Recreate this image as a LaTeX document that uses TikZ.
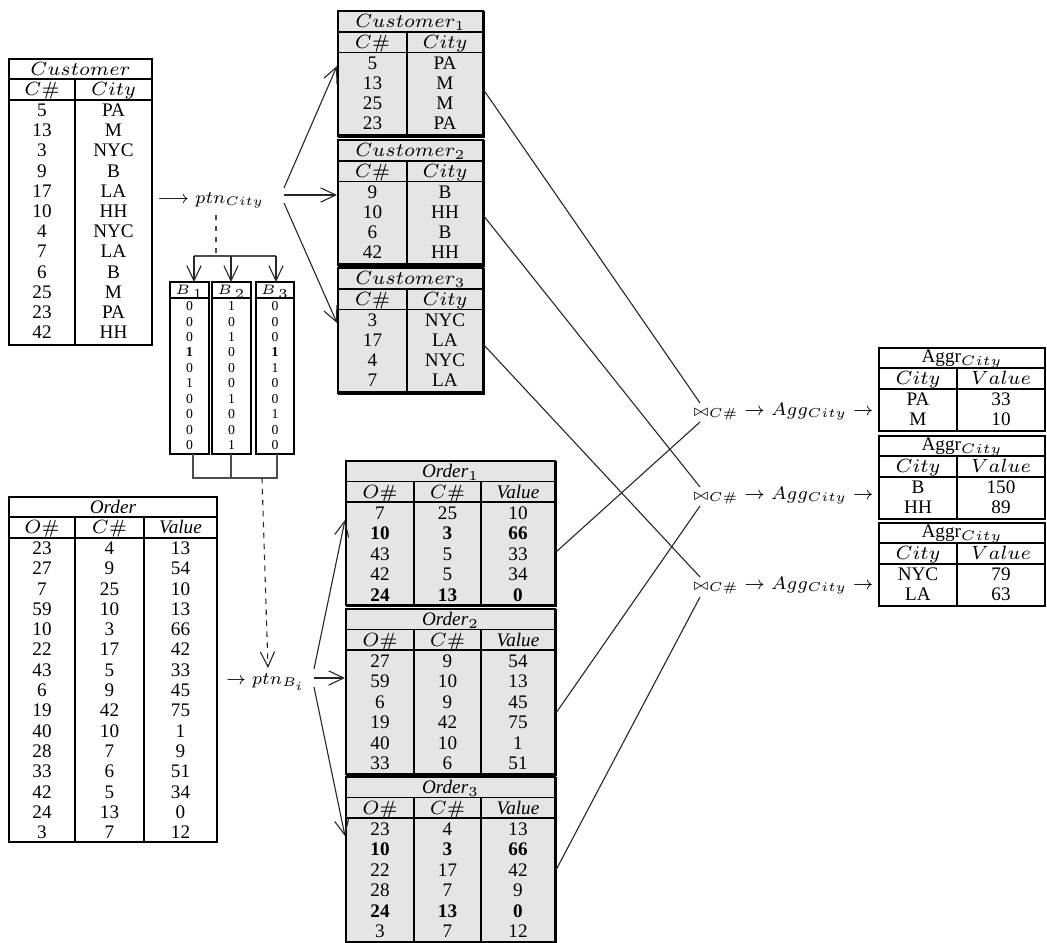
\documentclass[tikz,border=0pt]{standalone}
\usepackage[no-math]{fontspec}
\setmainfont{Liberation Serif}
\usepackage{graphicx}
\usetikzlibrary{arrows.meta,fit}
\tikzset{
  cell/.style={inner sep=0pt, text height=4.7pt, text depth=0pt, anchor=center},
  bcell/.style={inner sep=0pt, text height=3.4pt, text depth=0pt, anchor=center, font=\fontsize{5}{6}\selectfont},
  tframe/.style={draw, line width=0.75pt, inner sep=0pt, outer sep=0pt},
  aframe/.style={draw, line width=0.9pt, inner sep=0pt, outer sep=0pt},
  pframe/.style={draw, fill=gray!20, line width=0.5pt, inner sep=0pt, outer sep=0pt},
  bframe/.style={draw, line width=1pt, inner sep=0pt, outer sep=0pt},
  tline/.style={line width=0.65pt},
  pline/.style={line width=0.4pt},
  shadeline/.style={line width=1.1pt},
  conn/.style={line width=0.4pt, black!85},
  brk/.style={line width=0.45pt, black!70},
  barb/.style={-{Straight Barb[length=5.5pt,width=5.2pt]}},
  dashline/.style={dash pattern=on 2pt off 2pt},
  lab/.style={inner sep=0pt, outer sep=0pt},
}
\newcommand\joinlabel{\scalebox{0.95}{${\scriptstyle\bowtie}_{C\#}\rightarrow Agg_{City}\rightarrow$}}
\begin{document}
\begin{tikzpicture}[x=0.365pt,y=-0.365pt,font=\fontsize{7}{8}\selectfont]
\useasboundingbox (0,0) rectangle (1047,942);

% ---------------- Customer (main) ----------------
\node[tframe, fit={(9,59)(152,345)}] (cust) {};
\draw[tline] (9,79) -- (152,79);
\draw[tline] (9,100) -- (152,100);
\draw[tline] (75,79) -- (75,345);
\node[cell] (cust-t) at (80.5,69) {$Customer$};
\node[cell] (cust-h1) at (42,89.5) {$C\#$};
\node[cell] (cust-h2) at (113.5,89.5) {$City$};
\foreach \a/\b [count=\i from 0] in {5/PA,13/M,3/NYC,9/B,17/LA,10/HH,4/NYC,7/LA,6/B,25/M,23/PA,42/HH}{
  \node[cell] (cust-\i a) at (42,{110+20.2*\i}) {\a};
  \node[cell] (cust-\i b) at (113.5,{110+20.2*\i}) {\b};
}

% ---------------- Order (main) ----------------
\node[tframe, fit={(9,497)(217,842)}] (ord) {};
\draw[tline] (9,517) -- (217,517);
\draw[tline] (9,538) -- (217,538);
\draw[tline] (75,517) -- (75,842);
\draw[tline] (144,517) -- (144,842);
\node[cell] (ord-t) at (113,507) {\textit{Order}};
\node[cell] (ord-h1) at (42,527.5) {$O\#$};
\node[cell] (ord-h2) at (109.5,527.5) {$C\#$};
\node[cell] (ord-h3) at (180.5,527.5) {\textit{Value}};
\foreach \a/\b/\c [count=\i from 0] in {23/4/13,27/9/54,7/25/10,59/10/13,10/3/66,22/17/42,43/5/33,6/9/45,19/42/75,40/10/1,28/7/9,33/6/51,42/5/34,24/13/0,3/7/12}{
  \node[cell] (ord-\i a) at (42,{548+20.3*\i}) {\a};
  \node[cell] (ord-\i b) at (109.5,{548+20.3*\i}) {\b};
  \node[cell] (ord-\i c) at (180.5,{548+20.3*\i}) {\c};
}

% ---------------- partition labels ----------------
\node[lab, anchor=base west] (ptnC) at (157,203) {\scalebox{0.92}{$\longrightarrow ptn_{City}$}};
\node[lab, anchor=base west] (ptnB) at (226,684) {\scalebox{0.92}{$\rightarrow ptn_{B_i}$}};

% ---------------- bitmap tables ----------------
\foreach \k/\xa/\xb/\vals in {1/170/209/{0,0,0,\textbf{1},0,1,0,0,0,0},2/212/251/{1,0,1,0,0,0,1,0,0,1},3/256/294/{0,0,0,\textbf{1},1,0,0,1,0,0}}{
  \node[bframe, fit={(\xa,282)(\xb,454)}] (bm\k) {};
  \draw[line width=1pt] (\xa,298) -- (\xb,298);
  \node[bcell] (bm\k-h) at ({(\xa+\xb)/2},290) {$B_{\,\k}$};
  \foreach \v [count=\i from 0] in \vals {
    \node[bcell] (bm\k-\i) at ({(\xa+\xb)/2},{306+15.44*\i}) {\v};
  }
}
% bracket above the bitmaps
\coordinate (dA) at (216,215);
\coordinate (dB) at (216,256);
\coordinate (bl) at (194,256);
\coordinate (br) at (276,256);
\draw[brk, dashline] (dA) -- (dB);
\draw[brk] (bl) -- (br);
\draw[conn, barb] (bl) -- (bl |- bm1.north);
\draw[conn, barb] (231,256) -- (231,282);
\draw[conn, barb] (br) -- (br |- bm3.north);
% bracket below the bitmaps
\coordinate (ql) at (193,478);
\coordinate (qr) at (277,478);
\draw[brk] (193,454) -- (ql) -- (qr) -- (277,454);
\draw[brk] (231,454) -- (231,478);
\coordinate (qd) at (262,478);
\coordinate (qe) at (268,668);
\draw[conn, dashline, barb] (qd) -- (qe);

% ---------------- Customer partitions ----------------
\foreach \k/\tp/\rws in {1/11/{5/PA,13/M,25/M,23/PA},2/140/{9/B,10/HH,6/B,42/HH},3/268/{3/NYC,17/LA,4/NYC,7/LA}}{
  \node[pframe, fit={(338,\tp)(483,{\tp+125})}] (cp\k) {};
  \draw[pline] (338,{\tp+21}) -- (483,{\tp+21});
  \draw[pline] (338,{\tp+41.5}) -- (483,{\tp+41.5});
  \draw[pline] (407,{\tp+21}) -- (407,{\tp+125});
  \draw[shadeline] (cp\k.north east) -- (cp\k.south east) -- (cp\k.south west);
  \node[cell] (cp\k-t) at (410.5,{\tp+10.5}) {$Customer_\k$};
  \node[cell] (cp\k-h1) at (372.5,{\tp+31.5}) {$C\#$};
  \node[cell] (cp\k-h2) at (445,{\tp+31.5}) {$City$};
  \foreach \a/\b [count=\i from 0] in \rws {
    \node[cell] (cp\k-\i a) at (372.5,{\tp+52+20*\i}) {\a};
    \node[cell] (cp\k-\i b) at (445,{\tp+52+20*\i}) {\b};
  }
}

% ---------------- Order partitions ----------------
\foreach \k/\tp/\h/\rws in {1/461/144/{7/25/10,\textbf{10}/\textbf{3}/\textbf{66},43/5/33,42/5/34,\textbf{24}/\textbf{13}/\textbf{0}},2/609/165/{27/9/54,59/10/13,6/9/45,19/42/75,40/10/1,33/6/51},3/777/165/{23/4/13,\textbf{10}/\textbf{3}/\textbf{66},22/17/42,28/7/9,\textbf{24}/\textbf{13}/\textbf{0},3/7/12}}{
  \node[pframe, fit={(346,\tp)(555,{\tp+\h})}] (op\k) {};
  \draw[pline] (346,{\tp+20.5}) -- (555,{\tp+20.5});
  \draw[pline] (346,{\tp+41}) -- (555,{\tp+41});
  \draw[pline] (414,{\tp+20.5}) -- (414,{\tp+\h});
  \draw[pline] (481,{\tp+20.5}) -- (481,{\tp+\h});
  \draw[shadeline] (op\k.north east) -- (op\k.south east) -- (op\k.south west);
  \node[cell] (op\k-t) at (450.5,{\tp+10}) {\textit{Order}$_\k$};
  \node[cell] (op\k-h1) at (380,{\tp+31}) {$O\#$};
  \node[cell] (op\k-h2) at (447.5,{\tp+31}) {$C\#$};
  \node[cell] (op\k-h3) at (518,{\tp+31}) {\textit{Value}};
  \foreach \a/\b/\c [count=\i from 0] in \rws {
    \node[cell] (op\k-\i a) at (380,{\tp+52+20.4*\i}) {\a};
    \node[cell] (op\k-\i b) at (447.5,{\tp+52+20.4*\i}) {\b};
    \node[cell] (op\k-\i c) at (518,{\tp+52+20.4*\i}) {\c};
  }
}

% ---------------- fan-out arrows ----------------
\coordinate (pcA) at (284,188);
\coordinate (pcB) at (284,195);
\coordinate (pcC) at (284,203);
\coordinate (cin1) at (337,66);
\coordinate (cin2) at (337,195);
\coordinate (cin3) at (337,323);
\draw[conn, barb] (pcA) -- (cin1);
\draw[conn, barb] (pcB) -- (cin2);
\draw[conn, barb] (pcC) -- (cin3);

\coordinate (pbA) at (314,669);
\coordinate (pbB) at (314,678);
\coordinate (pbC) at (314,687);
\coordinate (oin1) at (345,520);
\coordinate (oin2) at (345,678);
\coordinate (oin3) at (345,836);
\draw[conn, barb] (pbA) -- (oin1);
\draw[conn, barb] (pbB) -- (oin2);
\draw[conn, barb] (pbC) -- (oin3);

% ---------------- joins ----------------
\node[lab, anchor=base west] (j1) at (693,415) {\joinlabel};
\node[lab, anchor=base west] (j2) at (693,499) {\joinlabel};
\node[lab, anchor=base west] (j3) at (693,589) {\joinlabel};

\coordinate (cr1) at (483,89);
\coordinate (cr2) at (483,215);
\coordinate (cr3) at (483,344);
\coordinate (or1) at (556,552);
\coordinate (or2) at (556,713);
\coordinate (or3) at (556,870);
\coordinate (j1u) at (700,403);
\coordinate (j1d) at (700,422);
\coordinate (j2u) at (700,487);
\coordinate (j2d) at (700,506);
\coordinate (j3u) at (700,577);
\coordinate (j3d) at (700,597);
\draw[conn] (cr1) -- (j1u);
\draw[conn] (or1) -- (j1d);
\draw[conn] (cr2) -- (j2u);
\draw[conn] (or2) -- (j2d);
\draw[conn] (cr3) -- (j3u);
\draw[conn] (or3) -- (j3d);

% ---------------- Aggregate tables ----------------
\foreach \k/\tp/\rws in {1/348/{PA/33,M/10},2/436/{B/150,HH/89},3/523/{NYC/79,LA/63}}{
  \node[aframe, fit={(879,\tp)(1045,{\tp+83})}] (ag\k) {};
  \draw[line width=0.55pt] (879,{\tp+20}) -- (1045,{\tp+20});
  \draw[line width=0.9pt] (879,{\tp+41}) -- (1045,{\tp+41});
  \draw[line width=0.75pt] (957,{\tp+20}) -- (957,{\tp+83});
  \node[cell] (ag\k-t) at (962,{\tp+8}) {Aggr$_{City}$};
  \node[cell] (ag\k-h1) at (918,{\tp+30.5}) {$City$};
  \node[cell] (ag\k-h2) at (1001,{\tp+30.5}) {$Value$};
  \foreach \a/\b [count=\i from 0] in \rws {
    \node[cell] (ag\k-\i a) at (918,{\tp+51.5+20*\i}) {\a};
    \node[cell] (ag\k-\i b) at (1001,{\tp+51.5+20*\i}) {\b};
  }
}
\end{tikzpicture}
\end{document}
